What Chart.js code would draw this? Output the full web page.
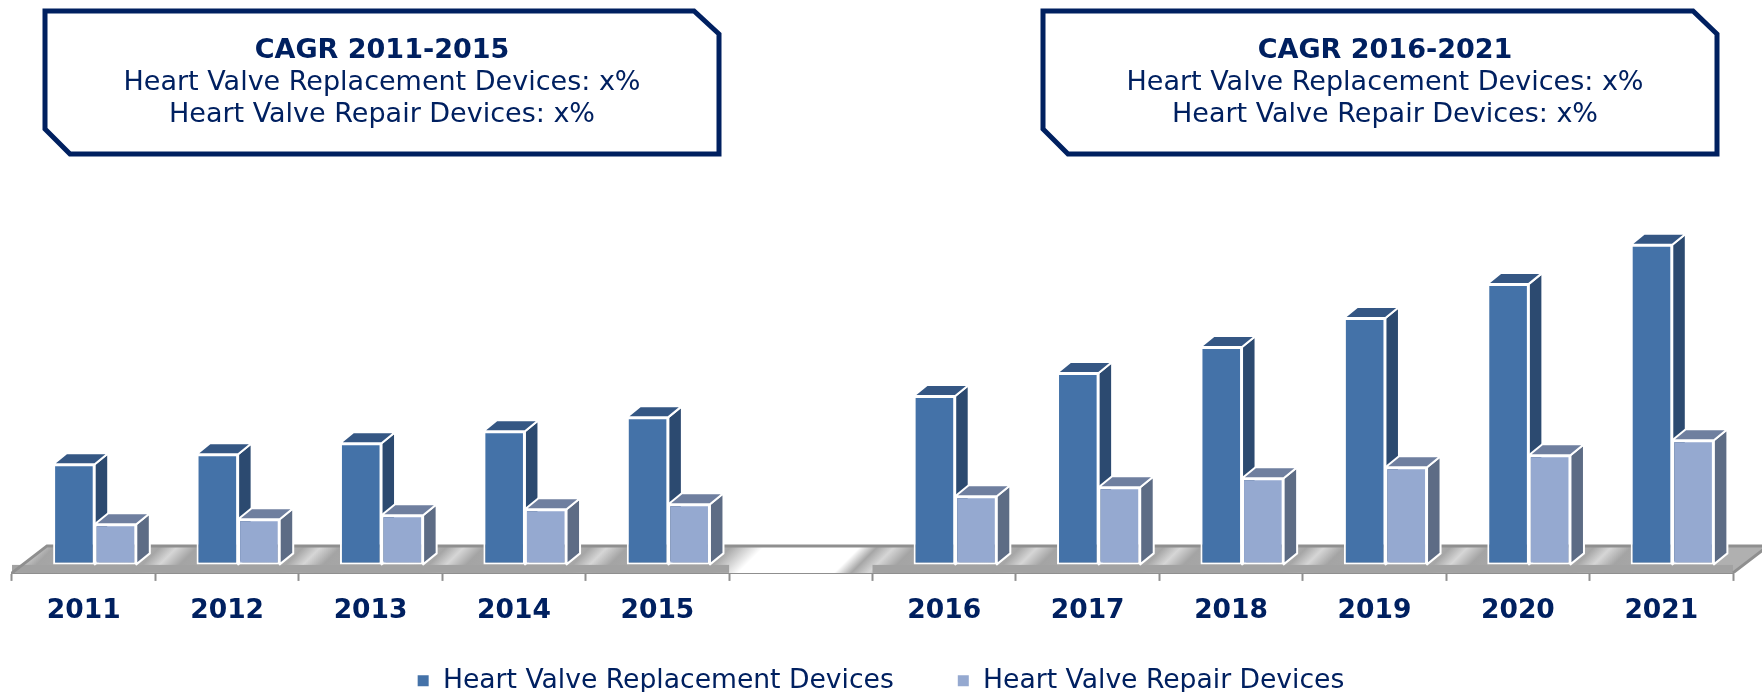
<!DOCTYPE html>
<html>
<head>
<meta charset="utf-8">
<title>Heart Valve Devices</title>
<script src="https://cdn.jsdelivr.net/npm/chart.js@4"></script>
<style>
    body { margin: 0; background: #fff; }
    #wrap { position: relative; width: 1762px; height: 692px; overflow: hidden; font-family: "DejaVu Sans", sans-serif; color: #002060; }
    #myChart { position: absolute; left: 0; top: 0; }
    #boxes { position: absolute; left: 0; top: 0; }
    .note { position: absolute; top: 33px; text-align: center; font-size: 27px; line-height: 32px; white-space: nowrap; transform: translateX(-50%); }
</style>
</head>
<body>
<div id="wrap">
    <canvas id="myChart" width="1762" height="692"></canvas>
    <svg id="boxes" width="1762" height="692">
        <polygon points="45,11 694,11 719,34 719,154 70,154 45,129" fill="#fff" stroke="#002060" stroke-width="5"/>
        <polygon points="1043,11 1693,11 1717,34 1717,154 1068,154 1043,129" fill="#fff" stroke="#002060" stroke-width="5"/>
    </svg>
    <div class="note" style="left:382px"><b>CAGR 2011-2015</b><br>Heart Valve Replacement Devices: x%<br>Heart Valve Repair Devices: x%</div>
    <div class="note" style="left:1385px"><b>CAGR 2016-2021</b><br>Heart Valve Replacement Devices: x%<br>Heart Valve Repair Devices: x%</div>
</div>
<script>
// --- Data (no y axis in the original) ---
const years = ['2011', '2012', '2013', '2014', '2015', '', '2016', '2017', '2018', '2019', '2020', '2021'];
const replacementDevices = [100, 110, 121, 133, 147, null, 168, 191, 217, 246, 280, 319];
const repairDevices = [40, 45, 49, 55, 60, null, 68, 77, 86, 97, 109, 124];

const NAVY = '#002060';
const DEPTH_X = 13.5;
const DEPTH_Y = -11;
const SHIFT_X = 11;    // bars stand in the middle of the floor, not on its front edge
const SHIFT_Y = -8.5;

const faceColors = [
    { side: '#2C4A70', top: '#355784' },
    { side: '#5D6C85', top: '#6F7F9F' }
];

function drawFloor(chart) {
    const { ctx, scales: { x, y } } = chart;
    const front = y.getPixelForValue(0);
    const back = front - 27;
    const skew = 35;
    const span = x.right - x.left;

    // Metallic streaks run diagonally, so the gradient runs at 45 degrees
    const grad = ctx.createLinearGradient(x.left, back, x.left + span / 2, back + span / 2);
    const slot = 1 / 12;
    years.forEach((year, i) => {
        const base = i * slot;
        if (year === '') {
            grad.addColorStop(base + slot * 0.02, '#a8a8a8');
            grad.addColorStop(base + slot * 0.25, '#ffffff');
            grad.addColorStop(base + slot * 0.92, '#ffffff');
        } else {
            grad.addColorStop(base + slot * 0.04, '#a6a6a6');
            grad.addColorStop(base + slot * 0.16, '#d6d6d6');
            grad.addColorStop(base + slot * 0.3, '#a4a4a4');
            grad.addColorStop(base + slot * 0.92, '#b0b0b0');
        }
    });

    ctx.save();
    ctx.beginPath();
    ctx.moveTo(x.left, front);
    ctx.lineTo(x.left + skew, back);
    ctx.lineTo(x.right + skew, back);
    ctx.lineTo(x.right, front);
    ctx.closePath();
    ctx.fillStyle = grad;
    ctx.fill();

    // Darker lip along the front edge, none across the empty slot
    const gapLeft = x.getPixelForValue(5) - span / 24;
    const gapRight = x.getPixelForValue(5) + span / 24;
    ctx.fillStyle = '#a2a2a2';
    ctx.fillRect(x.left, front - 8, gapLeft - x.left, 8);
    ctx.fillRect(gapRight, front - 8, x.right - gapRight, 8);

    ctx.strokeStyle = '#8f8f8f';
    ctx.lineWidth = 3;
    ctx.beginPath();
    ctx.moveTo(x.left, front);
    ctx.lineTo(x.left + skew, back);
    ctx.lineTo(x.right + skew, back);
    ctx.lineTo(x.right, front);
    ctx.stroke();
    ctx.restore();
}

function drawFaces(chart) {
    const ctx = chart.ctx;
    chart.data.datasets.forEach((ds, i) => {
        chart.getDatasetMeta(i).data.forEach((bar, index) => {
            if (ds.data[index] === null) return;
            const { x, y, base, width } = bar.getProps(['x', 'y', 'base', 'width'], true);
            const l = x - width / 2;
            const r = x + width / 2;
            ctx.strokeStyle = '#fff';
            ctx.lineWidth = 2;
            ctx.lineJoin = 'round';

            ctx.fillStyle = faceColors[i].side;
            ctx.beginPath();
            ctx.moveTo(r, y);
            ctx.lineTo(r + DEPTH_X, y + DEPTH_Y);
            ctx.lineTo(r + DEPTH_X, base + DEPTH_Y);
            ctx.lineTo(r, base);
            ctx.closePath();
            ctx.fill();
            ctx.stroke();

            ctx.fillStyle = faceColors[i].top;
            ctx.beginPath();
            ctx.moveTo(l, y);
            ctx.lineTo(l + DEPTH_X, y + DEPTH_Y);
            ctx.lineTo(r + DEPTH_X, y + DEPTH_Y);
            ctx.lineTo(r, y);
            ctx.closePath();
            ctx.fill();
            ctx.stroke();
        });
    });
}

const box3d = {
    id: 'box3d',
    afterLayout(chart) {
        // Tick labels are clipped to the scale box, the legend overlaps it on purpose
        chart.scales.x.bottom = 640;
        chart.legend.left += 8;
        chart.legend.right += 8;
    },
    beforeDatasetsDraw(chart) {
        drawFloor(chart);
        chart.ctx.save();
        chart.ctx.translate(SHIFT_X, SHIFT_Y);
        drawFaces(chart);
    },
    afterDatasetsDraw(chart) {
        chart.ctx.restore();
    }
};

new Chart(document.getElementById('myChart'), {
    type: 'bar',
    data: {
        labels: years,
        datasets: [
            {
                label: 'Heart Valve Replacement Devices',
                data: replacementDevices,
                backgroundColor: '#4472A8',
                borderColor: '#fff',
                borderWidth: 2,
                borderSkipped: false,
                clip: false
            },
            {
                label: 'Heart Valve Repair Devices',
                data: repairDevices,
                backgroundColor: '#95A9D0',
                borderColor: '#fff',
                borderWidth: 2,
                borderSkipped: false,
                clip: false
            }
        ]
    },
    options: {
        responsive: false,
        animation: false,
        categoryPercentage: 0.58,
        barPercentage: 1,
        layout: { padding: { left: 12, right: 29, top: 72, bottom: -12 } },
        scales: {
            x: {
                afterFit: scale => { scale.height = 31.5; },
                border: { color: '#8f8f8f', width: 2 },
                grid: { drawOnChartArea: false, color: '#8f8f8f', tickLength: 8, tickWidth: 2 },
                ticks: {
                    color: NAVY,
                    autoSkip: false,
                    maxRotation: 0,
                    padding: 14,
                    font: { family: '"DejaVu Sans"', size: 26.5, weight: 'bold' }
                }
            },
            y: { display: false, min: 0, max: 500 }
        },
        plugins: {
            legend: {
                position: 'bottom',
                labels: {
                    color: NAVY,
                    boxWidth: 13,
                    boxHeight: 13,
                    padding: 63,
                    font: { family: '"DejaVu Sans"', size: 26.6 }
                }
            },
            tooltip: { enabled: false }
        }
    },
    plugins: [box3d]
});
</script>
</body>
</html>
